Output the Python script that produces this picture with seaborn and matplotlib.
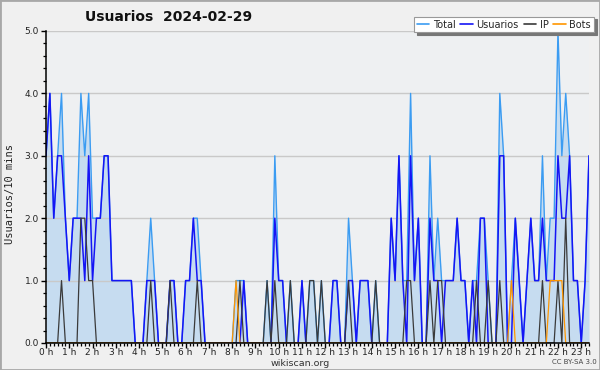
import numpy as np
import pandas as pd
import matplotlib
matplotlib.use("Agg")
import matplotlib.pyplot as plt
import seaborn as sns
from matplotlib.ticker import MultipleLocator, FormatStrFormatter
from matplotlib.lines import Line2D
from matplotlib.patches import Rectangle

# ---- data: one value per 10-minute slot (0:00 .. 23:20) ----
total = [
    3, 4, 2, 3, 4, 2, 1, 2, 2, 4,
    3, 4, 2, 2, 2, 3, 3, 1, 1, 1,
    1, 1, 1, 0, 0, 0, 1, 2, 1, 0,
    0, 0, 1, 1, 0, 0, 1, 1, 2, 2,
    1, 0, 0, 0, 0, 0, 0, 0, 0, 1,
    1, 1, 0, 0, 0, 0, 0, 1, 0, 3,
    1, 1, 0, 1, 0, 0, 1, 0, 1, 1,
    0, 1, 0, 0, 1, 1, 0, 0, 2, 1,
    0, 1, 1, 1, 0, 1, 0, 0, 0, 2,
    1, 3, 1, 1, 4, 1, 2, 0, 0, 3,
    1, 2, 1, 1, 1, 1, 2, 1, 1, 0,
    1, 1, 2, 2, 1, 0, 0, 4, 3, 0,
    1, 2, 1, 0, 1, 2, 1, 1, 3, 1,
    2, 2, 5, 3, 4, 3, 1, 1, 0, 1,
    3]
usuarios = [
    3, 4, 2, 3, 3, 2, 1, 2, 2, 2,
    1, 3, 1, 2, 2, 3, 3, 1, 1, 1,
    1, 1, 1, 0, 0, 0, 1, 1, 1, 0,
    0, 0, 1, 1, 0, 0, 1, 1, 2, 1,
    1, 0, 0, 0, 0, 0, 0, 0, 0, 0,
    0, 1, 0, 0, 0, 0, 0, 0, 0, 2,
    1, 1, 0, 0, 0, 0, 1, 0, 0, 0,
    0, 0, 0, 0, 1, 1, 0, 0, 1, 1,
    0, 1, 1, 1, 0, 0, 0, 0, 0, 2,
    1, 3, 1, 0, 3, 1, 2, 0, 0, 2,
    1, 1, 0, 1, 1, 1, 2, 1, 1, 0,
    1, 0, 2, 2, 0, 0, 0, 3, 3, 0,
    0, 2, 1, 0, 1, 2, 1, 1, 2, 1,
    1, 1, 3, 2, 2, 3, 1, 1, 0, 1,
    3]
ip = [
    0, 0, 0, 0, 1, 0, 0, 0, 0, 2,
    2, 1, 1, 0, 0, 0, 0, 0, 0, 0,
    0, 0, 0, 0, 0, 0, 0, 1, 0, 0,
    0, 0, 1, 0, 0, 0, 0, 0, 0, 1,
    0, 0, 0, 0, 0, 0, 0, 0, 0, 0,
    1, 0, 0, 0, 0, 0, 0, 1, 0, 1,
    0, 0, 0, 1, 0, 0, 0, 0, 1, 1,
    0, 1, 0, 0, 0, 0, 0, 0, 1, 0,
    0, 0, 0, 0, 0, 1, 0, 0, 0, 0,
    0, 0, 0, 1, 1, 0, 0, 0, 0, 1,
    0, 1, 1, 0, 0, 0, 0, 0, 0, 0,
    0, 1, 0, 0, 1, 0, 0, 1, 0, 0,
    0, 0, 0, 0, 0, 0, 0, 0, 1, 0,
    0, 0, 1, 0, 2, 0, 0, 0, 0, 0,
    0]
bots = [
    0, 0, 0, 0, 0, 0, 0, 0, 0, 0,
    0, 0, 0, 0, 0, 0, 0, 0, 0, 0,
    0, 0, 0, 0, 0, 0, 0, 0, 0, 0,
    0, 0, 0, 0, 0, 0, 0, 0, 0, 0,
    0, 0, 0, 0, 0, 0, 0, 0, 0, 1,
    0, 0, 0, 0, 0, 0, 0, 0, 0, 0,
    0, 0, 0, 0, 0, 0, 0, 0, 0, 0,
    0, 0, 0, 0, 0, 0, 0, 0, 0, 0,
    0, 0, 0, 0, 0, 0, 0, 0, 0, 0,
    0, 0, 0, 0, 0, 0, 0, 0, 0, 0,
    0, 0, 0, 0, 0, 0, 0, 0, 0, 0,
    0, 0, 0, 0, 0, 0, 0, 0, 0, 0,
    1, 0, 0, 0, 0, 0, 0, 0, 0, 0,
    1, 1, 1, 1, 0, 0, 0, 0, 0, 0,
    0]
hour_labels = ["0 h", "1 h", "2 h", "3 h", "4 h", "5 h", "6 h", "7 h",
               "8 h", "9 h", "10 h", "11 h", "12 h", "13 h", "14 h", "15 h",
               "16 h", "17 h", "18 h", "19 h", "20 h", "21 h", "22 h", "23 h"]
series_names = ["Total", "Usuarios", "IP", "Bots"]
title = "Usuarios  2024-02-29"

# ---- style ----
sns.set_theme(style="white")
plt.rcParams["font.family"] = ["DejaVu Sans"]
colors = {"Total": "#3b9cf2", "Usuarios": "#1515f5", "IP": "#3a3a3a", "Bots": "#ff9600"}
fill_color = "#c6dcf0"

df = pd.DataFrame({"Total": total, "Usuarios": usuarios, "IP": ip, "Bots": bots})
df["hora"] = np.arange(len(df)) / 6.0

fig = plt.figure(figsize=(6.0, 3.7), dpi=100, facecolor="#f0f0f0")
ax = fig.add_axes([46 / 600, 27 / 370, 543 / 600, 312 / 370])
ax.set_facecolor("#eef0f2")

ax.fill_between(df["hora"], df["Total"], color=fill_color, lw=0, zorder=0.4)
for name, lw in zip(series_names, [1.0, 1.1, 0.9, 0.9]):
    sns.lineplot(data=df, x="hora", y=name, color=colors[name], lw=lw, ax=ax)

ax.set_xlim(df["hora"].min(), df["hora"].max())
ax.set_ylim(0, 5)
ax.set_axisbelow(True)
ax.yaxis.grid(True, color="#c9c9c9", lw=1)
ax.xaxis.grid(False)

ax.set_xticks(np.arange(len(hour_labels)))
ax.set_xticklabels(hour_labels)
ax.xaxis.set_minor_locator(MultipleLocator(1 / 6))
ax.yaxis.set_major_locator(MultipleLocator(1))
ax.yaxis.set_minor_locator(MultipleLocator(0.2))
ax.yaxis.set_major_formatter(FormatStrFormatter("%.1f"))
ax.tick_params(axis="both", which="major", direction="out", length=3.5, width=1,
               color="black", labelsize=6.5, pad=1.5, labelcolor="#222222")
ax.tick_params(axis="both", which="minor", direction="out", length=2.5, width=0.9,
               color="black")
ax.tick_params(axis="x", which="major", pad=0.3)
ax.tick_params(left=True, bottom=True, which="both")

for side in ["top", "right"]:
    ax.spines[side].set_visible(False)
for side in ["left", "bottom"]:
    ax.spines[side].set_color("black")
    ax.spines[side].set_linewidth(1.1)

ax.set_xlabel("")
ax.set_ylabel("")
fig.text(0.016, 0.475, "Usuarios/10 mins", rotation=90, va="center", ha="center",
         family="DejaVu Sans Mono", fontsize=7.5, color="#222222")
fig.text(0.5, 0.017, "wikiscan.org", ha="center", va="center", fontsize=6.8, color="#333333")
fig.text(0.995, 0.021, "CC BY-SA 3.0", ha="right", va="center", fontsize=5, color="#444444")
fig.text(0.142, 0.954, title, ha="left", va="center", fontsize=10, fontweight="bold",
         color="#111111")

handles = [Line2D([0], [0], color=colors[n], lw=1.2) for n in series_names]
leg = fig.legend(handles, series_names, loc="upper right", bbox_to_anchor=(0.99, 0.955),
                 bbox_transform=fig.transFigure, ncol=4, fontsize=7, frameon=True,
                 fancybox=False, shadow={"color": "#777777", "alpha": 1.0}, framealpha=1,
                 edgecolor="#999999", borderpad=0.3, handlelength=1.3, handletextpad=0.35,
                 columnspacing=0.5, borderaxespad=0)
leg.get_frame().set_linewidth(0.8)

fig.patches.append(Rectangle((0, 0), 1, 1, transform=fig.transFigure, fill=False,
                             edgecolor="#a8a8a8", lw=2))

fig.savefig("out.png", dpi=100, facecolor=fig.get_facecolor())
